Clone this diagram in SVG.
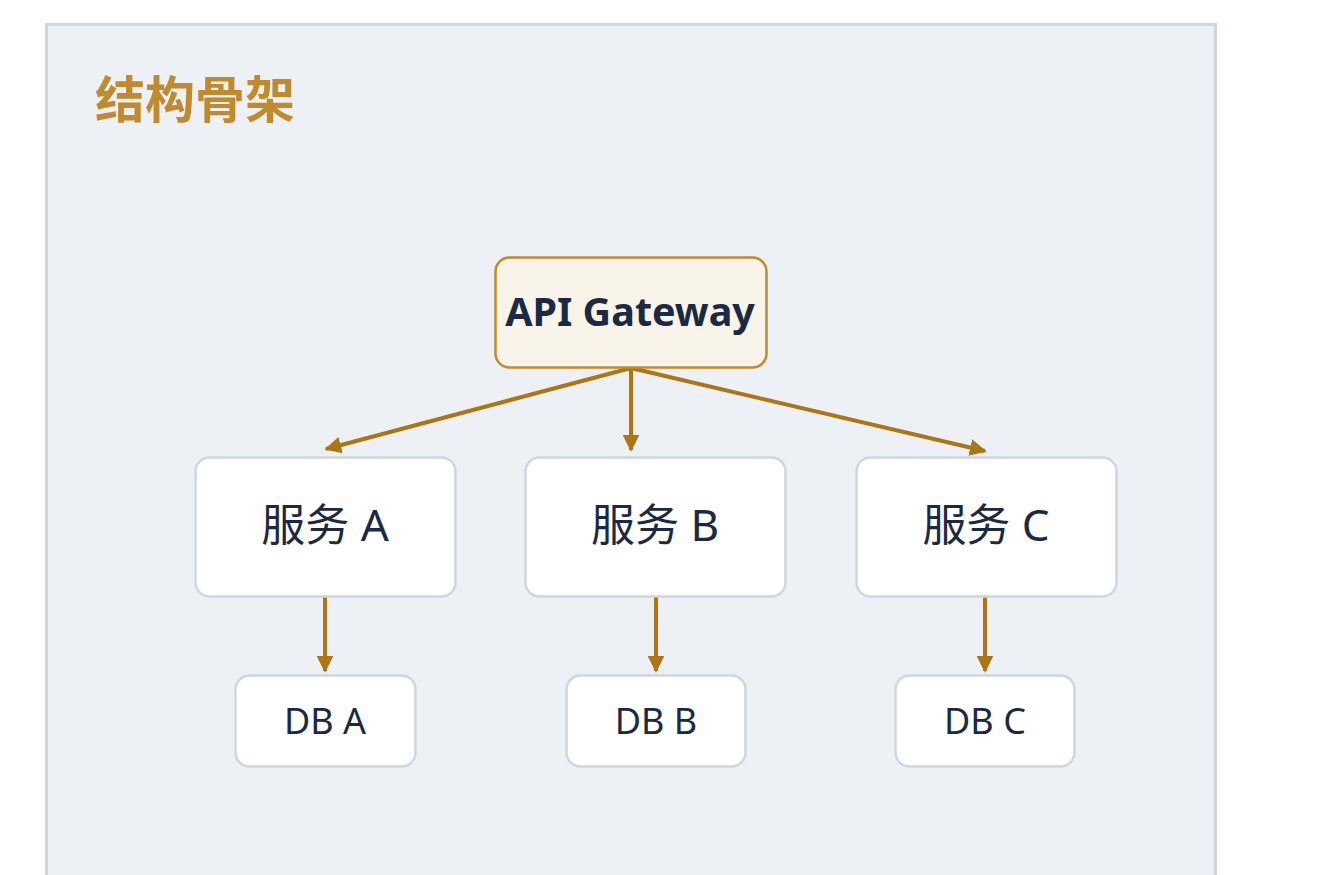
<svg xmlns="http://www.w3.org/2000/svg" width="1325" height="875" viewBox="0 0 1325 875">
<defs>
<style>
.t{font-family:"Noto Sans","Noto Sans CJK SC",sans-serif;fill:#1c2942;text-anchor:middle}
.box{fill:#ffffff;stroke:#cfd6df;stroke-width:2.5}
.c{stroke:#ad7614;stroke-width:4;fill:none;marker-end:url(#ah)}
</style>
<marker id="ah" viewBox="0 0 10 10" refX="9" refY="5" markerWidth="4.2" markerHeight="4.2" orient="auto" markerUnits="strokeWidth">
<path d="M0,0 L10,5 L0,10 z" fill="#ad7614"/>
</marker>
</defs>
<rect width="1325" height="875" fill="#ffffff"/>
<g id="panel">
<path d="M46.5,880 L46.5,24.5 L1215.5,24.5 L1215.5,880" fill="#edf1f6" stroke="#cfd6df" stroke-width="3"/>
<text x="95" y="118" font-family="'Noto Sans CJK SC','Noto Sans',sans-serif" font-size="50" font-weight="bold" fill="#c08a2e">结构骨架</text>
</g>
<g id="connectors">
<line class="c" x1="631" y1="368" x2="326" y2="449"/>
<line class="c" x1="631" y1="368" x2="631" y2="450"/>
<line class="c" x1="631" y1="368" x2="985" y2="451"/>
<line class="c" x1="325" y1="597" x2="325" y2="671"/>
<line class="c" x1="656" y1="597" x2="656" y2="671"/>
<line class="c" x1="985" y1="597" x2="985" y2="671"/>
</g>
<g id="gateway">
<rect x="495.5" y="257.5" width="271" height="110" rx="14" fill="#f8f4ea" stroke="#c08a2e" stroke-width="2.5"/>
<text class="t" x="630" y="326" font-size="39.5" font-weight="bold">API Gateway</text>
</g>
<g id="svcA">
<rect class="box" x="195.5" y="457.5" width="260" height="139" rx="14"/>
<text class="t" x="325" y="541" font-size="44">服务 A</text>
</g>
<g id="svcB">
<rect class="box" x="525.5" y="457.5" width="260" height="139" rx="14"/>
<text class="t" x="655" y="541" font-size="44">服务 B</text>
</g>
<g id="svcC">
<rect class="box" x="856.5" y="457.5" width="260" height="139" rx="14"/>
<text class="t" x="986" y="541" font-size="44">服务 C</text>
</g>
<g id="dbA">
<rect class="box" x="235.5" y="675.5" width="180" height="91" rx="14"/>
<text class="t" x="325" y="734" font-size="36">DB A</text>
</g>
<g id="dbB">
<rect class="box" x="566.5" y="675.5" width="179" height="91" rx="14"/>
<text class="t" x="656" y="734" font-size="36">DB B</text>
</g>
<g id="dbC">
<rect class="box" x="895.5" y="675.5" width="179" height="91" rx="14"/>
<text class="t" x="985" y="734" font-size="36">DB C</text>
</g>
</svg>
